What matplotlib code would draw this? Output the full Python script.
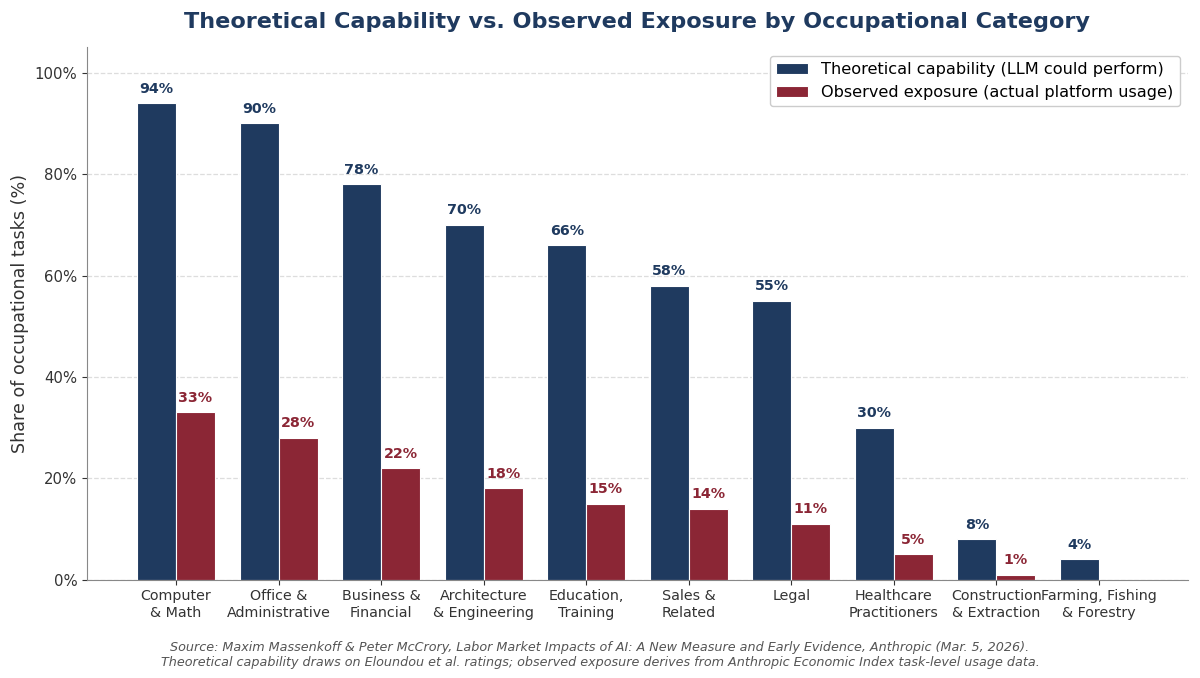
import numpy as np
import matplotlib.pyplot as plt
from matplotlib.ticker import PercentFormatter

# data
categories = ['Computer\n& Math', 'Office &\nAdministrative', 'Business &\nFinancial',
              'Architecture\n& Engineering', 'Education,\nTraining', 'Sales &\nRelated',
              'Legal', 'Healthcare\nPractitioners', 'Construction\n& Extraction',
              'Farming, Fishing\n& Forestry']
theoretical = [94, 90, 78, 70, 66, 58, 55, 30, 8, 4]
observed = [33, 28, 22, 18, 15, 14, 11, 5, 1, 0]

navy = '#1f3a5f'
red = '#8b2635'

fig, ax = plt.subplots(figsize=(12, 6.78), dpi=100)
x = np.arange(len(categories))
w = 0.38

b1 = ax.bar(x - w / 2, theoretical, w, color=navy, edgecolor='white', linewidth=0.8,
            label='Theoretical capability (LLM could perform)')
b2 = ax.bar(x + w / 2, observed, w, color=red, edgecolor='white', linewidth=0.8,
            label='Observed exposure (actual platform usage)')

for bars, vals, c in [(b1, theoretical, navy), (b2, observed, red)]:
    for b, v in zip(bars, vals):
        if v > 0:
            ax.text(b.get_x() + b.get_width() / 2, v + 1.5, f'{v}%', ha='center',
                    va='bottom', fontsize=10.3, fontweight='bold', color=c)

ax.set_xticks(x)
ax.set_xticklabels(categories, fontsize=10.3, color='#333333')
ax.set_ylim(0, 105)
ax.set_yticks(range(0, 101, 20))
ax.yaxis.set_major_formatter(PercentFormatter(decimals=0))
ax.tick_params(axis='y', labelsize=10.7, colors='#333333')
ax.tick_params(axis='x', colors='#333333')
ax.set_ylabel('Share of occupational tasks (%)', fontsize=12.6, color='#333333')
ax.set_title('Theoretical Capability vs. Observed Exposure by Occupational Category',
             fontsize=16.1, fontweight='bold', color=navy, pad=14)

ax.grid(axis='y', linestyle='--', color='#dddddd', linewidth=0.9)
ax.set_axisbelow(True)
for s in ['top', 'right']:
    ax.spines[s].set_visible(False)
for s in ['left', 'bottom']:
    ax.spines[s].set_color('#888888')

ax.legend(loc='upper right', fontsize=11.6, framealpha=1, edgecolor='#cccccc')

fig.text(0.5, 0.014,
         'Source: Maxim Massenkoff & Peter McCrory, Labor Market Impacts of AI: A New Measure and Early Evidence, Anthropic (Mar. 5, 2026).\n'
         'Theoretical capability draws on Eloundou et al. ratings; observed exposure derives from Anthropic Economic Index task-level usage data.',
         ha='center', va='bottom', fontsize=9.2, style='italic', color='#555555')

fig.subplots_adjust(left=0.0725, right=0.99, top=0.93, bottom=0.145)
fig.savefig('out.png', dpi=100)
